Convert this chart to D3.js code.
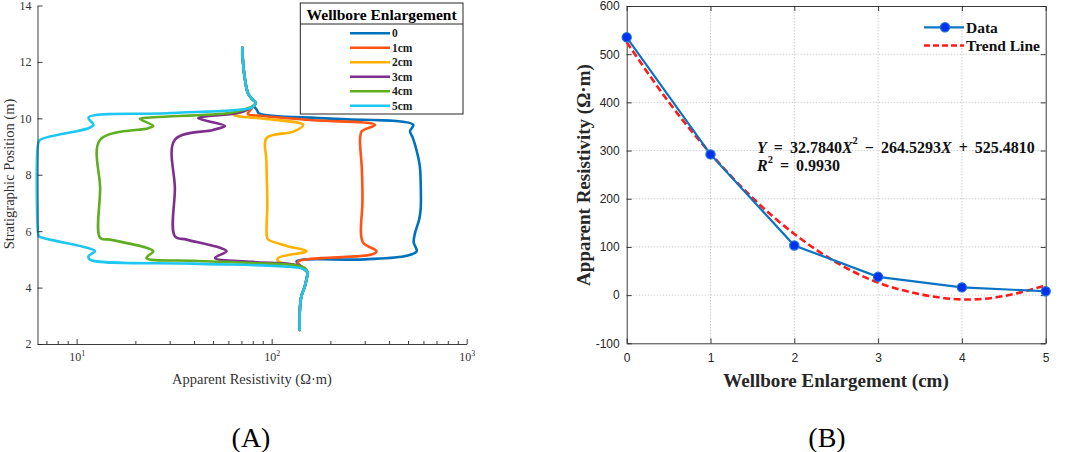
<!DOCTYPE html>
<html><head><meta charset="utf-8">
<script src="https://cdn.jsdelivr.net/npm/d3@7"></script>
<style>body{margin:0;background:#fff}svg{display:block}</style>
</head><body>
<svg id="c" width="1065" height="452"></svg>
<script>
// ---------- Panel A data: [apparent resistivity (Ω·m), stratigraphic position (m)] ----------
const seriesLabels = ["0", "1cm", "2cm", "3cm", "4cm", "5cm"];
const seriesColors = ["#0072BD", "#FF5214", "#FFB000", "#7E2F8E", "#5EAE1F", "#1EC6F2"];
const topShared = [[70.7,12.5],[71.3,12.0],[72.9,11.4],[75.5,10.9],[79.5,10.68],[83,10.55],[81,10.45]];
const bottomShared = [[153,4.52],[152,4.4],[148,4.05],[142,3.69],[139.5,3.22],[139,2.5]];
const curve0 = [[84,10.3],[86,10.18],[199,9.99],[532,9.77],[512,9.55],[530,9.3],[554,8.85],[575,8.3],[581,7.7],[581,6.8],[570,6.4],[543,5.93],[535,5.6],[554,5.29],[492,5.13],[300,5.0],[134,4.93],[142,4.75]];
const curve1 = [[78,10.3],[75.5,10.15],[90,10.08],[163,9.93],[339,9.77],[289,9.53],[284,9.24],[290,8.2],[292,7.0],[287,5.94],[295,5.58],[345,5.29],[325,5.17],[137,4.93],[137,4.81]];
const curve2 = [[72,10.25],[64,10.12],[87,10.0],[145,9.77],[129,9.53],[94,9.3],[94,8.5],[95,7.0],[94.5,5.8],[96,5.7],[122,5.46],[151,5.29],[108,5.05],[108,4.93],[148,4.7]];
const curve3 = [[75,10.3],[66,10.18],[44.6,10.06],[42,10.0],[57.6,9.73],[50,9.59],[31.9,9.24],[31.9,7.5],[31.9,5.82],[36.6,5.7],[54.3,5.41],[58.7,5.29],[51.2,5.05],[80,4.91],[140,4.76]];
const curve4 = [[72,10.3],[61,10.19],[21.9,10.01],[21.1,9.98],[24.7,9.73],[23.3,9.65],[13.2,9.24],[13.2,7.5],[13.2,5.76],[14.8,5.7],[22.8,5.41],[24.7,5.29],[22.8,5.05],[40,4.95],[80,4.87],[145,4.72]];
const curve5 = [[77.4,10.36],[28.9,10.18],[11.5,10.03],[12.2,9.77],[11.5,9.65],[6.5,9.24],[6.35,9.1],[6.35,5.9],[6.4,5.82],[7.3,5.7],[11.3,5.41],[12.4,5.29],[11.5,5.11],[11.7,4.99],[39.6,4.85],[115,4.75],[145,4.66]];
const curvesA = [curve0, curve1, curve2, curve3, curve4, curve5];
const yTicksA = [2,4,6,8,10,12,14];
const xTicksA = [10,100,1000];
const xMinorA = [7,8,9,20,30,40,50,60,70,80,90,200,300,400,500,600,700,800,900];

// ---------- Panel B data ----------
const enlargement = [0,1,2,3,4,5];
const resistivity = [535,292,103,38,16,8];
const trendX = [0,0.5,1,1.5,2,2.5,3,3.5,4,4.5,5];
const trendY = [525,401,294,202,127,68,26,2,-9,-2,20];
const xTicksB = [0,1,2,3,4,5];
const yTicksB = [-100,0,100,200,300,400,500,600];

const svg = d3.select("#c");
const serif = "'Liberation Serif','Times New Roman',serif";
const sans = "'Liberation Sans',Arial,sans-serif";
const axisCol = "#262626";

// ================= Panel A =================
const xA = d3.scaleLog().domain([6.3,1000]).range([37.5,466.7]);
const yA = d3.scaleLinear().domain([2,14]).range([344,5.5]);
const gA = svg.append("g");

const lineA = d3.line().x(d=>xA(d[0])).y(d=>yA(d[1])).curve(d3.curveCatmullRom.alpha(0.5));
curvesA.forEach((c,i)=>{
  gA.append("path").attr("d", lineA(topShared.concat(c, bottomShared)))
    .attr("fill","none").attr("stroke",seriesColors[i]).attr("stroke-width",2.6)
    .attr("stroke-linejoin","round").attr("stroke-linecap","round");
});

// axes
const axXA = gA.append("g").attr("transform","translate(0,344)")
  .call(d3.axisBottom(xA).tickValues(xTicksA).tickSizeInner(-5).tickSizeOuter(0).tickPadding(6).tickFormat(()=>""));
gA.append("g").attr("transform","translate(0,344)")
  .call(d3.axisBottom(xA).tickValues(xMinorA).tickSizeInner(-3).tickSizeOuter(0).tickFormat(()=>""))
  .call(g=>g.select(".domain").remove());
const axYA = gA.append("g").attr("transform","translate(37.5,0)")
  .call(d3.axisLeft(yA).tickValues(yTicksA).tickSizeInner(-5).tickSizeOuter(0).tickPadding(6));
[axXA, axYA].forEach(g=>{
  g.select(".domain").attr("stroke",axisCol).attr("stroke-width",0.9);
});
gA.selectAll(".tick line").attr("stroke",axisCol).attr("stroke-width",0.9);
axYA.selectAll(".tick text").attr("font-family",serif).attr("font-size",12).attr("fill","#333");
axXA.selectAll(".tick text").each(function(d){
  const t = d3.select(this).attr("font-family",serif).attr("font-size",12).attr("fill","#333")
     .attr("dy","0.9em").attr("text-anchor","middle");
  t.append("tspan").text("10");
  t.append("tspan").attr("font-size",8).attr("dy","-0.55em").text(String(Math.round(Math.log10(d))));
});
gA.append("text").attr("x",252).attr("y",379).attr("text-anchor","middle").attr("dominant-baseline","central")
  .attr("font-family",serif).attr("font-size",14.5).attr("fill","#333").text("Apparent Resistivity (Ω·m)");
gA.append("text").attr("transform","translate(9,174) rotate(-90)").attr("text-anchor","middle").attr("dominant-baseline","central")
  .attr("font-family",serif).attr("font-size",14.5).attr("fill","#333").text("Stratigraphic Position (m)");

// legend A
const lgA = gA.append("g");
lgA.append("rect").attr("x",300.3).attr("y",3).attr("width",162.7).attr("height",111)
  .attr("fill","#fff").attr("stroke",axisCol).attr("stroke-width",1);
lgA.append("line").attr("x1",300.3).attr("x2",463).attr("y1",24).attr("y2",24).attr("stroke",axisCol).attr("stroke-width",1);
lgA.append("text").attr("x",381.6).attr("y",14.5).attr("text-anchor","middle").attr("dominant-baseline","central")
  .attr("font-family",serif).attr("font-weight","bold").attr("font-size",15.5).attr("fill","#000").text("Wellbore Enlargement");
const legY = d3.scalePoint().domain(seriesLabels).range([33.3,105.7]);
seriesLabels.forEach((lab,i)=>{
  lgA.append("line").attr("x1",350).attr("x2",390).attr("y1",legY(lab)).attr("y2",legY(lab))
    .attr("stroke",seriesColors[i]).attr("stroke-width",2.6);
  lgA.append("text").attr("x",392).attr("y",legY(lab)).attr("dominant-baseline","central")
    .attr("font-family",serif).attr("font-weight","bold").attr("font-size",11.5).attr("fill","#222").text(lab);
});
gA.append("text").attr("x",251).attr("y",437).attr("text-anchor","middle").attr("dominant-baseline","central")
  .attr("font-family",serif).attr("font-size",28).attr("fill","#000").text("(A)");

// ================= Panel B =================
const xB = d3.scaleLinear().domain([0,5]).range([626.7,1045.7]);
const yB = d3.scaleLinear().domain([-100,600]).range([343.3,6]);
const gB = svg.append("g");
// grid
gB.append("g").selectAll("line.gx").data(xTicksB.slice(1,-1)).join("line")
  .attr("x1",d=>xB(d)).attr("x2",d=>xB(d)).attr("y1",yB(600)).attr("y2",yB(-100))
  .attr("stroke","#c4c4c4").attr("stroke-width",0.8).attr("stroke-dasharray","1.5,1.5");
gB.append("g").selectAll("line.gy").data(yTicksB.slice(1,-1)).join("line")
  .attr("x1",xB(0)).attr("x2",xB(5)).attr("y1",d=>yB(d)).attr("y2",d=>yB(d))
  .attr("stroke","#c4c4c4").attr("stroke-width",0.8).attr("stroke-dasharray","1.5,1.5");
// axes with inward ticks on all sides
const axB = d3.axisBottom(xB).tickValues(xTicksB).tickSizeInner(-5).tickSizeOuter(0).tickPadding(10).tickFormat(d3.format("d"));
const axL = d3.axisLeft(yB).tickValues(yTicksB).tickSizeInner(-5).tickSizeOuter(0).tickPadding(7).tickFormat(d3.format("d"));
const gxb = gB.append("g").attr("transform",`translate(0,${yB(-100)})`).call(axB);
const gyl = gB.append("g").attr("transform",`translate(${xB(0)},0)`).call(axL);
gB.append("g").attr("transform",`translate(0,${yB(600)})`).call(d3.axisTop(xB).tickValues(xTicksB).tickSizeInner(-5).tickSizeOuter(0).tickFormat(()=>""));
gB.append("g").attr("transform",`translate(${xB(5)},0)`).call(d3.axisRight(yB).tickValues(yTicksB).tickSizeInner(-5).tickSizeOuter(0).tickFormat(()=>""));
gB.selectAll(".domain").attr("stroke",axisCol).attr("stroke-width",0.9);
gB.selectAll(".tick line").attr("stroke",axisCol).attr("stroke-width",0.9);
gB.selectAll(".tick text").attr("font-family",sans).attr("font-size",12).attr("fill","#262626");
gyl.selectAll(".tick text").text(d=>d<0?"-"+Math.abs(d):d);

// trend line
const trendLine = d3.line().x(d=>xB(d[0])).y(d=>yB(d[1])).curve(d3.curveNatural);
gB.append("path").attr("d",trendLine(trendX.map((x,i)=>[x,trendY[i]])))
  .attr("fill","none").attr("stroke","#FF1A1A").attr("stroke-width",2.6).attr("stroke-dasharray","7,3.5");
// data
const dataLine = d3.line().x(d=>xB(d[0])).y(d=>yB(d[1]));
const dataPts = enlargement.map((x,i)=>[x,resistivity[i]]);
gB.append("path").attr("d",dataLine(dataPts)).attr("fill","none").attr("stroke","#0A74C4").attr("stroke-width",2.2);
gB.selectAll("circle.m").data(dataPts).join("circle").attr("cx",d=>xB(d[0])).attr("cy",d=>yB(d[1]))
  .attr("r",4.6).attr("fill","#0033EE").attr("stroke","#1E6FD8").attr("stroke-width",1.2);

// legend B
gB.append("line").attr("x1",924).attr("x2",964).attr("y1",27.3).attr("y2",27.3).attr("stroke","#0A74C4").attr("stroke-width",2.2);
gB.append("circle").attr("cx",945).attr("cy",27.3).attr("r",4.6).attr("fill","#0033EE").attr("stroke","#1E6FD8").attr("stroke-width",1.2);
gB.append("text").attr("x",966).attr("y",27.3).attr("dominant-baseline","central").attr("font-family",serif)
  .attr("font-weight","bold").attr("font-size",15.5).attr("fill","#111").text("Data");
gB.append("line").attr("x1",924).attr("x2",964).attr("y1",45.5).attr("y2",45.5).attr("stroke","#FF1A1A").attr("stroke-width",2.6).attr("stroke-dasharray","6,3");
gB.append("text").attr("x",966).attr("y",45.5).attr("dominant-baseline","central").attr("font-family",serif)
  .attr("font-weight","bold").attr("font-size",15.5).attr("fill","#111").text("Trend Line");

// equation
const eq = gB.append("text").attr("x",757).attr("y",146.7).attr("dominant-baseline","central")
  .attr("font-family",serif).attr("font-weight","bold").attr("font-size",16).attr("word-spacing",3).attr("fill","#111");
eq.append("tspan").attr("font-style","italic").text("Y");
eq.append("tspan").text(" = 32.7840");
eq.append("tspan").attr("font-style","italic").text("X");
eq.append("tspan").attr("font-size",10.5).attr("dy","-0.6em").text("2");
eq.append("tspan").attr("dy","0.39em").text(" − 264.5293");
eq.append("tspan").attr("font-style","italic").text("X");
eq.append("tspan").text(" + 525.4810");
const r2 = gB.append("text").attr("x",757).attr("y",165).attr("dominant-baseline","central")
  .attr("font-family",serif).attr("font-weight","bold").attr("font-size",16).attr("word-spacing",3).attr("fill","#111");
r2.append("tspan").attr("font-style","italic").text("R");
r2.append("tspan").attr("font-size",10.5).attr("dy","-0.6em").text("2");
r2.append("tspan").attr("dy","0.39em").text(" = 0.9930");

// axis titles B
gB.append("text").attr("x",836).attr("y",380).attr("text-anchor","middle").attr("dominant-baseline","central")
  .attr("font-family",serif).attr("font-weight","bold").attr("font-size",19).attr("fill","#262626").text("Wellbore Enlargement (cm)");
gB.append("text").attr("transform","translate(583,175) rotate(-90)").attr("text-anchor","middle").attr("dominant-baseline","central")
  .attr("font-family",serif).attr("font-weight","bold").attr("font-size",19).attr("fill","#262626").text("Apparent Resistivity (Ω·m)");
gB.append("text").attr("x",827).attr("y",437).attr("text-anchor","middle").attr("dominant-baseline","central")
  .attr("font-family",serif).attr("font-size",28).attr("fill","#000").text("(B)");
</script>
</body></html>
